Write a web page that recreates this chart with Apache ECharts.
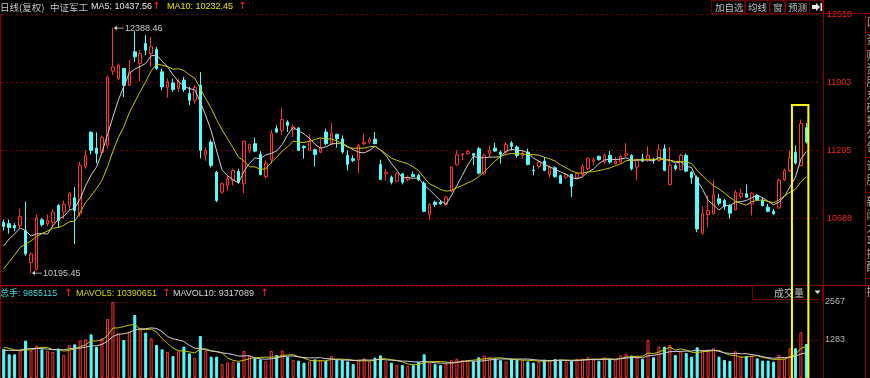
<!DOCTYPE html>
<html><head><meta charset="utf-8">
<script src="https://cdn.jsdelivr.net/npm/echarts@6/dist/echarts.min.js"></script>
<style>html,body{margin:0;padding:0;background:#000;overflow:hidden}#c{width:870px;height:378px}</style>
</head><body><div id="c"></div>
<script>
// ---- data (price in index points, volume in 万手) ----
const opens = [10650,10638,10621,10621,10576,10291,10232,10672,10636,10650,
10800,10740,10800,10870,10726,11150,11455,11312,11276,11339,
12003,11937,12027,11877,12176,12072,12251,12161,12197,11997,
11856,11898,11847,11922,11802,11742,11877,11250,11368,11099,
10920,10980,11025,11105,10995,11294,11354,11258,11060,11210,
11488,11473,11548,11480,11494,11330,11294,11300,11278,11458,
11354,11437,11395,11249,11219,11210,11354,11369,11395,11168,
11085,11054,11018,11085,11031,11078,11069,11000,10720,10830,
10830,10809,10928,11165,11256,11264,11264,11309,11085,11270,
11314,11278,11279,11359,11324,11249,11278,11117,11150,11198,
11078,11138,11069,11054,11078,11049,11078,11130,11198,11240,
11189,11249,11174,11189,11249,11249,11144,11219,11204,11216,
11204,11309,10989,11156,11121,11249,11099,11049,10552,10719,
10726,10860,10845,10800,10761,10881,10905,10815,10890,10845,
10785,10749,10779,11031,11114,11278,11159,11497];
const closes = [10612,10603,10600,10701,10367,10367,10690,10630,10666,10740,
10666,10810,10910,10755,11159,11249,11294,11267,11410,11949,
12042,12057,11877,11997,12131,12162,12191,12221,12027,11862,
11907,11838,11907,11838,11742,11856,11294,11290,11159,10845,
10995,11040,11114,11009,11375,11348,11287,11078,11180,11444,
11458,11569,11518,11503,11294,11318,11375,11258,11318,11354,
11449,11399,11279,11168,11204,11339,11366,11390,11354,11033,
11099,11009,11085,11009,11054,11060,11031,10749,10809,10809,
10815,10875,11144,11255,11264,11285,11249,11090,11249,11294,
11288,11258,11348,11330,11249,11270,11168,11111,11189,11114,
11144,11060,11000,11078,10971,11085,11150,11219,11210,11210,
11249,11189,11198,11240,11264,11130,11204,11198,11249,11204,
11300,11114,11159,11130,11249,11108,11049,10591,10731,10755,
10899,10821,10791,10731,10919,10911,10875,10911,10851,10800,
10749,10726,11025,11114,11228,11180,11533,11368];
const lows = [10576,10549,10570,10591,10351,10195.45,10215,10612,10612,10612,
10600,10680,10755,10456,10700,11130,11258,11177,11249,11312,
11967,11922,11772,11868,12086,11907,12146,12041,12012,11832,
11767,11817,11817,11817,11698,11713,11222,11200,11140,10830,
10905,10935,10980,10995,10910,11270,11278,11069,11040,11174,
11449,11428,11458,11413,11288,11219,11288,11150,11270,11339,
11339,11318,11264,11114,11189,11090,11339,11354,11348,11031,
11025,10989,11009,10989,11018,11054,11018,10740,10672,10785,
10809,10800,10919,11159,11204,11258,11159,11078,11078,11234,
11279,11174,11249,11294,11228,11219,11159,11070,11130,11108,
11049,11049,10995,11040,10875,11040,11060,11114,11159,11204,
11174,11174,11168,11174,11234,11114,11025,11189,11189,11174,
11189,11108,10980,11114,11114,11099,10995,10561,10540,10605,
10719,10800,10761,10681,10755,10860,10869,10710,10845,10791,
10740,10719,10770,11018,11099,11168,11150,11354];
const highs = [10675,10675,10641,10770,10836,10381,10720,10690,10720,10770,
10815,10845,10920,10965,11190,11294,11465,11455,11428,11958,
12388.46,12072,12027,12102,12360,12191,12326,12311,12221,12027,
11937,11937,11937,11952,11862,11877,11994,11320,11390,11110,
11009,11069,11130,11130,11384,11354,11408,11287,11204,11473,
11518,11677,11563,11527,11503,11339,11437,11309,11399,11488,
11539,11444,11428,11294,11249,11354,11444,11408,11458,11210,
11130,11069,11099,11090,11069,11105,11085,11018,10821,10845,
10851,10890,11150,11294,11266,11300,11270,11324,11264,11339,
11363,11294,11369,11377,11339,11294,11309,11159,11204,11234,
11159,11150,11078,11090,11085,11099,11168,11234,11234,11249,
11264,11288,11234,11249,11359,11258,11219,11264,11330,11228,
11348,11348,11324,11174,11264,11264,11108,11069,10791,10890,
11031,10905,10860,10815,10941,10950,10989,10920,10905,10875,
10815,10770,11040,11130,11294,11339,11569,11539];
const volumes = [985.5,800,800,946,1261,923,1092,968,923,878,
991,777,1115,1137,1261,1306,1475,1059,1340,1993,
2567,1509,1284,1565,2128,1678,1531,1340,1115,968,
878,743,901,1059,833,687,1419,923,721,721,
473,529,552,529,912,743,664,630,563,912,
777,923,721,608,586,518,563,630,608,586,
743,630,608,563,473,608,664,563,687,766,
563,518,439,439,405,439,552,800,520,470,
440,480,600,650,610,600,560,700,760,700,
660,600,560,650,620,600,560,520,560,620,
600,640,620,560,580,640,660,700,620,580,
700,640,620,760,820,760,700,650,1284,700,
1059,1059,1115,777,901,845,721,1037,946,946,
1002,721,608,574,901,721,743,743,664,586,
586,552,777,664,1002,1002,1543,1149];
// sessions before the visible window, only used to seed the moving averages
const priorCloses = [9960,9990,10020,10060,10106,10280,10380,10436,10480];
const priorVolumes = [780,800,830,850,861.8,1000,1060,1080,1069.8];
const priceMin = 10080, priceMax = 12510, priceStep = 607.5;
const volMax = 2567, volStep = 1283.5;
const padSlots = 2;
const highlightFrom = 145, highlightTo = 147;

// ---- helpers ----
const categories = opens.map((_, i) => 'D' + (i + 1));
for (let k = 0; k < padSlots; k++) categories.push('P' + k);
function movingAvg(src, prior, n) {
  const all = prior.concat(src);
  return src.map((_, i) => {
    const j = i + prior.length; let s = 0;
    for (let k = j - n + 1; k <= j; k++) s += all[k];
    return +(s / n).toFixed(2);
  });
}
const UP = '#ff3232', DOWN = '#54fcfc';
const kData = opens.map((o, i) => [o, closes[i], lows[i], highs[i]]);
const volData = volumes.map((v, i) => {
  const up = closes[i] >= opens[i];
  return { value: v, itemStyle: { color: up ? 'rgba(0,0,0,0)' : DOWN, borderColor: up ? UP : DOWN, borderWidth: 1 } };
});
let hiIdx = 0, loIdx = 0;
highs.forEach((h, i) => { if (h > highs[hiIdx]) hiIdx = i; });
lows.forEach((l, i) => { if (l < lows[loIdx]) loIdx = i; });

const chart = echarts.init(document.getElementById('c'), null, { renderer: 'canvas' });
const LAT = '"Liberation Sans", Arial, sans-serif';
const CJK = '"Noto Sans CJK SC", sans-serif';
const arrowPath = 'path://M0,3L3.5,0L3.5,2.5L12,2.5L12,3.5L3.5,3.5L3.5,6Z';
function t(x, y, text, fill, size, fam, extra) {
  return Object.assign({ type: 'text', x: x, y: y, z: 50, silent: true,
    style: { text: text, fill: fill, font: size + 'px ' + (fam || LAT), verticalAlign: 'middle', textVerticalAlign: 'middle' } }, extra || {});
}
function ln(x1, y1, x2, y2, c, w) {
  return { type: 'line', z: 40, silent: true, shape: { x1, y1, x2, y2 }, style: { stroke: c, lineWidth: w || 1 } };
}
function box(x, y, w, h) {
  return { type: 'rect', z: 45, silent: true, shape: { x, y, width: w, height: h }, style: { fill: '#000', stroke: '#6e0000', lineWidth: 1 } };
}
const BORDER = '#8b0000';
const graphics = [
  t(0, 7, '日线(复权)', '#c8c8c8', 9.5, CJK),
  t(50, 7, '中证军工', '#c8c8c8', 9.5, CJK),
  t(91, 7, 'MA5: 10437.56', '#e6e6e6', 9),
  t(152, 6.5, '↑', '#ff2020', 10, '"DejaVu Sans"'),
  t(167, 7, 'MA10: 10232.45', '#e8e800', 9),
  t(238, 6.5, '↑', '#ff2020', 10, '"DejaVu Sans"'),
  t(0, 294, '总手: 9855115', '#40d8d8', 9, LAT + ',' + CJK),
  t(64, 293.5, '↑', '#ff2020', 10, '"DejaVu Sans"'),
  t(76, 294, 'MAVOL5: 10390651', '#d8d800', 9),
  t(162, 293.5, '↑', '#ff2020', 10, '"DejaVu Sans"'),
  t(173, 294, 'MAVOL10: 9317089', '#d8d8d8', 9),
  t(260, 293.5, '↑', '#ff2020', 10, '"DejaVu Sans"'),
  // top-right buttons
  box(711.5, 0.5, 33, 13), t(715, 7, '加自选', '#c0c0c0', 9.5, CJK),
  box(745.5, 0.5, 24, 13), t(748, 7, '均线', '#c0c0c0', 9.5, CJK),
  box(770.5, 0.5, 14, 13), t(773, 7, '窗', '#c0c0c0', 9.5, CJK),
  box(785.5, 0.5, 24, 13), t(788, 7, '预测', '#c0c0c0', 9.5, CJK),
  box(809.5, 0.5, 13, 13),
  { type: 'polygon', z: 50, silent: true, shape: { points: [[812, 5], [816, 5], [816, 3], [820, 7], [816, 11], [816, 9], [812, 9]] }, style: { fill: '#e8e8e8' } },
  { type: 'rect', z: 50, silent: true, shape: { x: 820.5, y: 3, width: 1.5, height: 8 }, style: { fill: '#e8e8e8' } },
  // borders
  ln(0.5, 14, 0.5, 378, BORDER),
  ln(823.5, 0, 823.5, 378, BORDER),
  ln(0, 285.5, 870, 285.5, '#a00000'),
  ln(823, 13.5, 870, 13.5, BORDER),
  ln(865.5, 13.5, 865.5, 378, BORDER),
  // 成交量 box
  box(752.5, 285.5, 70, 14), t(774, 293, '成交量', '#c0c0c0', 10, CJK),
  { type: 'polygon', z: 50, silent: true, shape: { points: [[814.5, 290.5], [820.5, 290.5], [817.5, 294]] }, style: { fill: '#e0e0e0' } },
  // highlight box (positioned after render)
  { type: 'rect', id: 'hl', z: 60, silent: true, shape: { x: 792, y: 105, width: 16, height: 276 }, style: { fill: 'none', stroke: '#ffff00', lineWidth: 2 } }
];
// right-side tab strip (mostly clipped)
const tabChars = ['口', '资', '财', '资', '股', '东', '研', '报', '公', '告', '论', '股', '新', '闻', '大', '事', '提', '醒', '操', '盘', '相'];
const tabY = [22, 40, 56, 69, 82, 95, 108, 121, 134, 147, 166, 180, 202, 215, 228, 241, 254, 267, 292];
tabY.forEach((y, i) => graphics.push(t(866.5, y, tabChars[i], '#a8a8a8', 11, CJK)));
[32, 50, 157, 192, 278].forEach(y => graphics.push(ln(865, y + 0.5, 870, y + 0.5, BORDER)));

const option = {
  backgroundColor: '#000',
  animation: false,
  grid: [
    { left: 1, right: 50, top: 14.5, bottom: 92 },
    { left: 1, right: 50, top: 302, bottom: 0 }
  ],
  xAxis: [0, 1].map(g => ({ type: 'category', gridIndex: g, data: categories, boundaryGap: true,
    axisLine: { show: false }, axisTick: { show: false }, axisLabel: { show: false }, splitLine: { show: false } })),
  yAxis: [
    { type: 'value', gridIndex: 0, position: 'right', offset: 3, min: priceMin, max: priceMax, interval: priceStep,
      axisLine: { show: false }, axisTick: { show: false },
      axisLabel: { color: '#f02828', fontSize: 9, fontFamily: 'Liberation Sans', margin: 4,
        formatter: v => (Math.abs(v - priceMin) < 1 ? '' : String(Math.round(v))) },
      splitLine: { lineStyle: { color: '#7a0000', type: [2, 3], width: 1 } } },
    { type: 'value', gridIndex: 1, position: 'right', offset: 3, min: 0, max: volMax, interval: volStep,
      axisLine: { show: false }, axisTick: { show: false },
      axisLabel: { color: '#b8b8b8', fontSize: 9, fontFamily: 'Liberation Sans', margin: 2,
        formatter: v => (v === 0 ? '' : String(Math.floor(v))) },
      splitLine: { lineStyle: { color: '#7a0000', type: [2, 3], width: 1 } } }
  ],
  series: [
    { type: 'candlestick', name: 'K', xAxisIndex: 0, yAxisIndex: 0, data: kData, barWidth: 3,
      itemStyle: { color: 'rgba(0,0,0,0)', color0: DOWN, borderColor: UP, borderColor0: DOWN, borderWidth: 1 },
      markPoint: {
        symbol: arrowPath, symbolSize: [10, 5], symbolKeepAspect: false, silent: true,
        itemStyle: { color: '#d0d0d0' },
        label: { show: true, position: 'right', distance: 1, color: '#c8c8c8', fontSize: 9, fontFamily: 'Liberation Sans',
          formatter: p => p.data.coord[1].toFixed(2) },
        data: [
          { coord: [hiIdx, highs[hiIdx]], symbolOffset: [6, 0] },
          { coord: [loIdx, lows[loIdx]], symbolOffset: [6, 0] }
        ]
      } },
    { type: 'line', name: 'MA5', xAxisIndex: 0, yAxisIndex: 0, data: movingAvg(closes, priorCloses, 5),
      symbol: 'none', lineStyle: { color: '#d0d0d0', width: 1 }, z: 3 },
    { type: 'line', name: 'MA10', xAxisIndex: 0, yAxisIndex: 0, data: movingAvg(closes, priorCloses, 10),
      symbol: 'none', lineStyle: { color: '#c8c800', width: 1 }, z: 3 },
    { type: 'bar', name: 'VOL', xAxisIndex: 1, yAxisIndex: 1, data: volData, barWidth: 3 },
    { type: 'line', name: 'MAVOL5', xAxisIndex: 1, yAxisIndex: 1, data: movingAvg(volumes, priorVolumes, 5),
      symbol: 'none', lineStyle: { color: '#c8c800', width: 1 }, z: 3 },
    { type: 'line', name: 'MAVOL10', xAxisIndex: 1, yAxisIndex: 1, data: movingAvg(volumes, priorVolumes, 10),
      symbol: 'none', lineStyle: { color: '#d0d0d0', width: 1 }, z: 3 }
  ],
  graphic: graphics
};
chart.setOption(option);
const xa = chart.convertToPixel({ xAxisIndex: 0 }, categories[highlightFrom]);
const xb = chart.convertToPixel({ xAxisIndex: 0 }, categories[highlightTo]);
chart.setOption({ graphic: [{ id: 'hl', shape: { x: xa - 3.5, y: 105, width: (xb + 2) - (xa - 3.5), height: 276 } }] });
</script></body></html>
